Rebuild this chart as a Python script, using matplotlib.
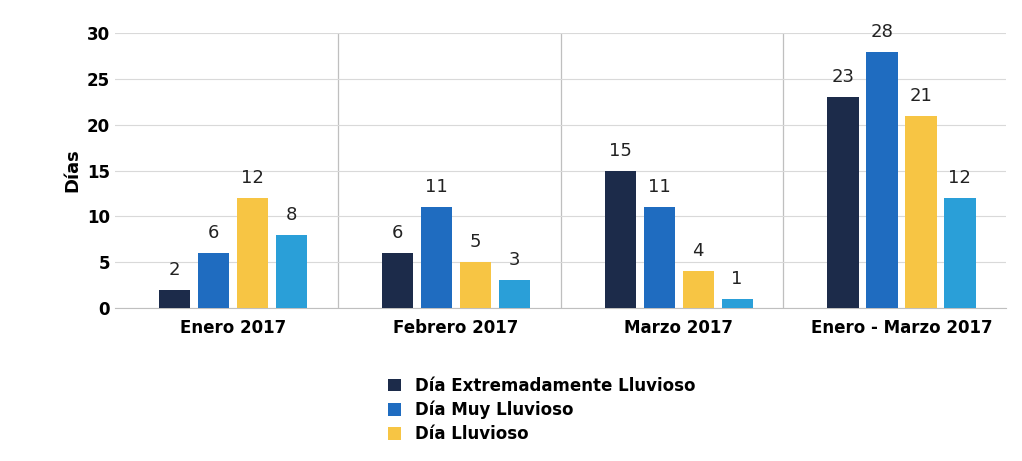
import matplotlib.pyplot as plt
import numpy as np

grupos = ["Enero 2017", "Febrero 2017", "Marzo 2017", "Enero - Marzo 2017"]
series = ["Día Extremadamente Lluvioso", "Día Muy Lluvioso", "Día Lluvioso", "Día Lluvioso Moderado"]
valores = [
    [2, 6, 15, 23],
    [6, 11, 11, 28],
    [12, 5, 4, 21],
    [8, 3, 1, 12],
]
colores = ["#1c2b4a", "#1f6cc0", "#f7c544", "#2a9fd8"]

fig = plt.figure(figsize=(10.22, 4.61), dpi=100)
ax = fig.add_axes([0.1125, 0.332, 0.872, 0.596])
x = np.arange(len(grupos))
ancho = 0.14
paso = 0.175
barras = []
for i, (nombre, vals, c) in enumerate(zip(series, valores, colores)):
    pos = x + 0.03 + (i - 1.5) * paso
    b = ax.bar(pos, vals, ancho, color=c, label=nombre, zorder=3)
    barras.append(b)
    for p, v in zip(pos, vals):
        ax.text(p, v + 1.2, str(v), ha="center", va="bottom", fontsize=13, color="#222222")

ax.set_xlim(-0.5, 3.5)
ax.set_ylim(0, 30)
ax.set_yticks(range(0, 31, 5))
ax.set_xticks(x + 0.03)
ax.set_xticklabels(grupos, fontsize=12, fontweight="bold")
ax.tick_params(axis="y", labelsize=12, length=0)
ax.tick_params(axis="x", length=0, pad=8)
for t in ax.get_yticklabels():
    t.set_fontweight("bold")
ax.set_ylabel("Días", fontsize=13, fontweight="bold")
ax.yaxis.grid(True, color="#d9d9d9", linewidth=0.8, zorder=0)
for s in [0.5, 1.5, 2.5]:
    ax.axvline(s, color="#bfbfbf", linewidth=0.9, zorder=1)
for sp in ["top", "right", "left"]:
    ax.spines[sp].set_visible(False)
ax.spines["bottom"].set_color("#bfbfbf")

fig.legend(handles=barras[:3], loc="upper left", bbox_to_anchor=(0.365, 0.215),
           frameon=False, handlelength=0.8, handleheight=0.8,
           labelspacing=0.35, prop={"weight": "bold", "size": 12})
fig.savefig("out.png", dpi=100)
